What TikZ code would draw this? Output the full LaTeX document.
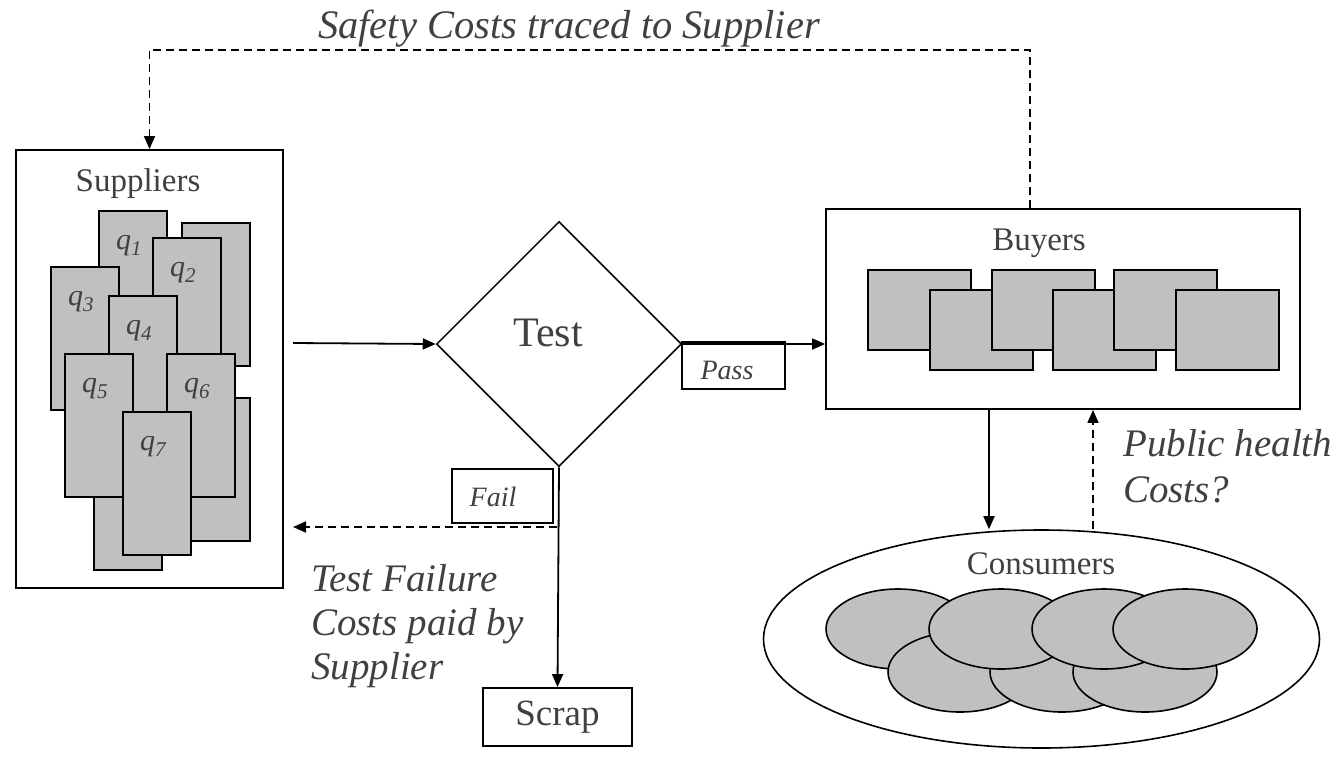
\documentclass[tikz,border=0pt]{standalone}
\usepackage{fontspec}
\setmainfont{Liberation Serif}
\usetikzlibrary{arrows.meta,shapes.geometric}
\definecolor{txtgray}{HTML}{404040}
\definecolor{cardgray}{HTML}{C0C0C0}
\tikzset{
  groupbox/.style={draw, line width=1.9pt, inner sep=0},
  tagbox/.style={draw, line width=1.5pt, inner sep=0},
  supcard/.style={draw, fill=cardgray, line width=1.8pt, inner sep=0, anchor=north west, minimum width=68pt, minimum height=143pt},
  buycard/.style={supcard, minimum width=103pt, minimum height=80pt},
  concard/.style={ellipse, draw, fill=cardgray, line width=1.6pt, inner sep=0, minimum width=144pt, minimum height=80pt},
  lbl/.style={text=txtgray, inner sep=0, font=\fontsize{33}{33}\selectfont},
  taglbl/.style={text=txtgray, inner sep=0, anchor=base, font=\fontsize{28}{28}\selectfont\itshape},
  qlbl/.style={text=txtgray, inner sep=0, font=\fontsize{30}{30}\selectfont\itshape},
  costlbl/.style={text=txtgray, inner sep=0, align=left, anchor=north west},
  flow/.style={line width=1.8pt, -{Triangle[length=13pt,width=11pt]}},
  cost/.style={flow, dash pattern=on 8pt off 5pt}
}
\begin{document}
\begin{tikzpicture}[x=1pt,y=-1pt]
\useasboundingbox (0,0) rectangle (1341,777);

\node[groupbox, minimum width=267pt, minimum height=438pt] (sup) at (149.5,369) {};
\node[lbl, anchor=base] at (138,191) {Suppliers};
\node[supcard] (q1) at (98,210) {};
\node[supcard] (c1) at (181,222) {};
\node[supcard] (q2) at (152,237) {};
\node[supcard] (q3) at (50,266) {};
\node[supcard] (q4) at (108,295) {};
\node[supcard] (c2) at (181,397) {};
\node[supcard] (c3) at (93,426) {};
\node[supcard] (q5) at (64,353) {};
\node[supcard] (q6) at (166,353) {};
\node[supcard] (q7) at (122,411) {};
\node[qlbl] at ([shift={(31,36)}]q1.north west) {q\textsubscript{1}};
\node[qlbl] at ([shift={(31,36)}]q2.north west) {q\textsubscript{2}};
\node[qlbl] at ([shift={(31,36)}]q3.north west) {q\textsubscript{3}};
\node[qlbl] at ([shift={(31,36)}]q4.north west) {q\textsubscript{4}};
\node[qlbl] at ([shift={(31,36)}]q5.north west) {q\textsubscript{5}};
\node[qlbl] at ([shift={(31,36)}]q6.north west) {q\textsubscript{6}};
\node[qlbl] at ([shift={(31,36)}]q7.north west) {q\textsubscript{7}};

\node[diamond, draw, line width=1.5pt, inner sep=0, minimum width=245pt, minimum height=245pt] (test) at (559,344) {};
\node[lbl, font=\fontsize{42}{42}\selectfont, anchor=base] at (548,346) {Test};
\node[tagbox, minimum width=103pt, minimum height=47pt] (pass) at (733.5,365.5) {};
\node[taglbl] at (727,379) {Pass};
\node[tagbox, minimum width=101pt, minimum height=54pt] (fail) at (502.5,496) {};
\node[taglbl] at (493,506) {Fail};
\node[groupbox, text=txtgray, font=\fontsize{37}{37}\selectfont, minimum width=149pt, minimum height=58pt] (scrap) at (557.5,717) {Scrap};

\node[groupbox, minimum width=474pt, minimum height=200pt] (buy) at (1063,309) {};
\node[lbl, anchor=base] at (1039,250) {Buyers};
\node[buycard] (b1) at (867,269) {};
\node[buycard] (b2) at (929,289) {};
\node[buycard] (b3) at (991,269) {};
\node[buycard] (b4) at (1052,289) {};
\node[buycard] (b5) at (1113,269) {};
\node[buycard] (b6) at (1175,289) {};

\node[ellipse, draw, line width=1.6pt, inner sep=0, minimum width=556pt, minimum height=218pt] (con) at (1041.5,639) {};
\node[lbl, anchor=base] at (1041,574) {Consumers};
\node[concard] (e1) at (898,629) {};
\node[concard] (f1) at (960,672) {};
\node[concard] (f2) at (1062,672) {};
\node[concard] (f3) at (1145,672) {};
\node[concard] (e2) at (1001,629) {};
\node[concard] (e3) at (1104,629) {};
\node[concard] (e4) at (1185,629) {};

\coordinate (supout) at (293,343);
\coordinate (supin) at (293,527);
\coordinate (failpt) at (557,527);
\coordinate (trace) at (589,50);
\draw[flow] (supout) -- (test.west);
\draw[flow] (test.east) -- (test.east -| buy.west);
\draw[flow] (test.south) -- (scrap.north);
\draw[cost] (failpt) -- (supin);
\draw[flow] ([xshift=-74pt]buy.south) -- ([xshift=-74pt]buy.south |- con.north);
\draw[cost] ([xshift=30pt]buy.south |- con.north) -- ([xshift=30pt]buy.south);
\draw[cost] ([xshift=-33pt]buy.north) |- (trace) -| (sup.north);

\node[lbl, font=\fontsize{40.5}{40.5}\selectfont\itshape, anchor=base] at (569,38) {Safety Costs traced to Supplier};
\node[costlbl, font=\fontsize{39}{44}\selectfont\itshape] at (311,564) {Test Failure\\Costs paid by\\Supplier};
\node[costlbl, font=\fontsize{39}{46}\selectfont\itshape] at (1123,429) {Public health\\Costs?};
\end{tikzpicture}
\end{document}
